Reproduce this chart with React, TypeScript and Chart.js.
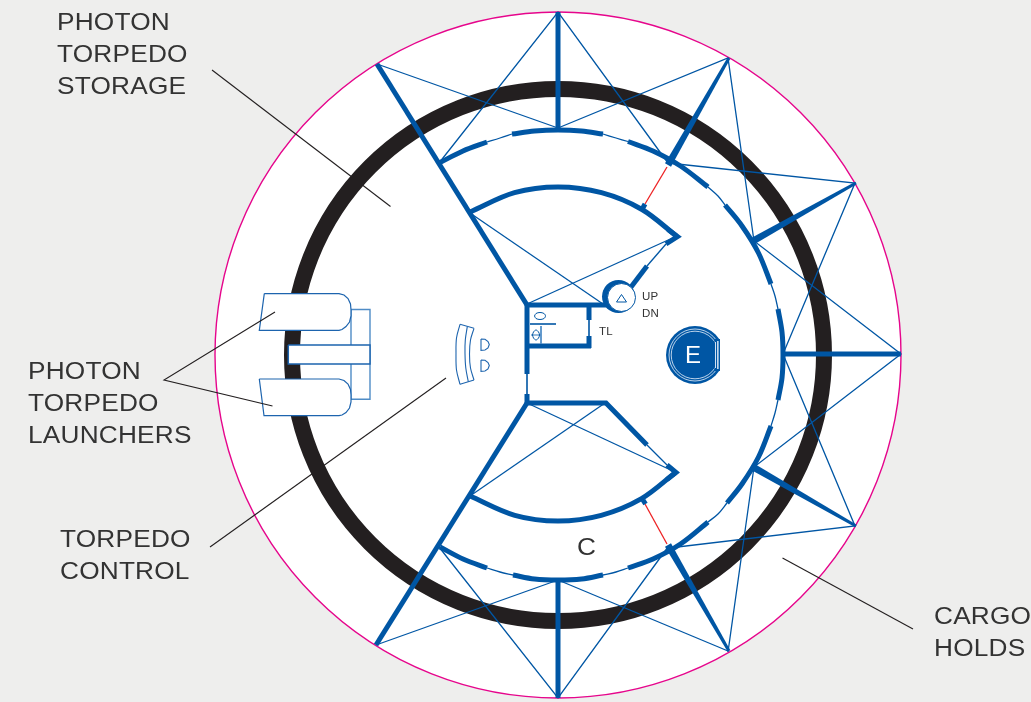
import React, { useEffect, useRef } from "react";
import { Chart, registerables } from "chart.js";

Chart.register(...registerables);

type P = number[];

const BLUE = "#0056a4";
const LIGHT = "#4f8cc6";
const INK = "#231f20";
const PINK = "#e6058c";
const RED = "#ed2224";
const GREY = "#eeeeed";

// ---- round marks: centre x, centre y
const hullCentre: P = [558, 355];
const ringCentre: P = [558, 355];
const stairOuterCentre: P = [618.5, 296.5];
const stairInnerCentre: P = [621.5, 297.5];
const engCentre: P = [695, 355];

// ---- labels
const storageLabel = ["PHOTON", "TORPEDO", "STORAGE"];
const launcherLabel = ["PHOTON", "TORPEDO", "LAUNCHERS"];
const controlLabel = ["TORPEDO", "CONTROL"];
const cargoLabel = ["CARGO", "HOLDS"];
const upLabel = ["UP", "DN"];

// ---- leader lines
const leaderStorage: P[] = [[212, 70], [390.5, 206.5]];
const leaderLaunchA: P[] = [[275, 312], [164, 380], [272.5, 406]];
const leaderControl: P[] = [[210, 547], [446, 378]];
const leaderCargo: P[] = [[782.5, 558], [913, 629]];

// ---- heavy radial frames, even width
const frames: P[][] = [
  [[377, 64], [527, 305]],
  [[558, 12], [558, 129]],
  [[901, 354], [783, 354]],
  [[558, 698], [558, 580]],
  [[376, 645], [527, 403]],
];

// ---- heavy radial frames, tapered towards the hull
const taperTopRight: P[] = [[727.7, 57.3], [730.3, 58.7], [671, 166.7], [665, 163.3], [727.7, 57.3]];
const taperRightUpper: P[] = [[855.3, 181.7], [856.7, 184.3], [754.8, 244], [751.2, 238], [855.3, 181.7]];
const taperRightLower: P[] = [[856.7, 524.7], [855.3, 527.3], [751.2, 470], [754.8, 464], [856.7, 524.7]];
const taperBottomRight: P[] = [[730.3, 650.3], [727.7, 651.7], [665, 546.7], [671, 543.3], [730.3, 650.3]];

// ---- thin bracing
const bracing: P[][] = [
  [[377, 64], [558, 128]],
  [[439, 163], [558, 12], [668, 163]],
  [[558, 128], [728, 58], [754, 241], [901, 354], [754, 467], [728, 652]],
  [[668, 163], [855, 183], [783, 354], [855, 526], [669, 548]],
  [[558, 580], [376, 645]],
  [[439, 547], [558, 698], [668, 547]],
  [[558, 580], [728, 651]],
  [[470, 213], [603, 304]],
  [[677, 236], [527, 304]],
  [[527, 403], [675, 472]],
  [[470, 496], [605, 403]],
  [[647, 266], [666, 244]],
  [[647, 445], [667, 465]],
];

// ---- outer bulkhead, heavy stretches
const wallThick: P[][] = [
  [[439, 163], [463, 151], [487, 142]],
  [[512, 134], [534.5, 131], [558, 130], [581.5, 131], [603, 134]],
  [[628, 141.5], [653, 151], [680.5, 166], [708, 187]],
  [[725, 205], [742, 226], [758.5, 253], [771, 284]],
  [[778, 309], [782, 332], [783, 355], [782, 378], [778, 400]],
  [[771, 426], [758.5, 457], [742, 484], [727, 503]],
  [[708, 522], [680.5, 544], [653, 559], [628, 568]],
  [[603, 575], [581.5, 579], [558, 580], [534.5, 579], [513, 575]],
  [[487, 568], [463, 559], [440, 547]],
];

// ---- outer bulkhead, light stretches
const wallThin: P[][] = [
  [[487, 142], [500, 138], [512, 134]],
  [[603, 134], [616, 138], [628, 141.5]],
  [[708, 187], [718, 196], [725, 205]],
  [[771, 284], [775, 296], [778, 309]],
  [[778, 400], [775, 413], [771, 426]],
  [[727, 503], [718, 514], [708, 522]],
  [[628, 568], [616, 572], [603, 575]],
  [[513, 575], [500, 572], [487, 568]],
];

// ---- inner compartment curves
const innerTop: P[] = [[470, 212], [514.5, 192.7], [558, 187], [601.5, 192.7], [642, 209.5], [677, 236.5]];
const innerBottom: P[] = [[470, 496], [514.8, 515.3], [558, 521], [601.2, 515.3], [641.5, 498.6], [675.5, 472.5]];

// ---- inner heavy walls
const innerWalls: P[][] = [
  [[527, 305], [610, 305]],
  [[527, 303], [527, 374]],
  [[527, 394], [527, 405]],
  [[526, 346], [591, 346]],
  [[589, 307], [589, 320]],
  [[589, 336], [589, 348]],
  [[525, 403], [606, 403], [647, 445]],
  [[628, 291], [647, 266]],
  [[666, 244], [677.5, 236.5], [668, 229.5]],
  [[667, 465], [676, 472.5], [667, 479.5]],
  [[642, 209.5], [645, 204]],
  [[643, 500], [645.5, 504]],
];
const innerThin: P[][] = [
  [[527, 374], [527, 394]],
  [[589, 320], [589, 336]],
  [[530, 324], [556, 324]],
];
const redLinks: P[][] = [
  [[645, 204], [667, 167]],
  [[645, 504], [667, 544]],
];

// ---- washroom fittings
const basin: P[] = [[534.5, 316], [536, 313.5], [540, 312.5], [544, 313.5], [545.5, 316], [544, 318.5], [540, 319.5], [536, 318.5], [534.5, 316]];
const bowl: P[] = [[532.5, 335], [533.5, 332], [536, 330], [538.5, 332], [539.5, 335], [538.5, 338], [536, 340], [533.5, 338], [532.5, 335]];
const bowlBar: P[] = [[531, 335], [541, 335]];
const washDivider: P[] = [[541, 326], [541, 344]];

// ---- stair triangle
const stairMark: P[] = [[616.5, 302], [621.5, 294.5], [626.5, 302], [616.5, 302]];

// ---- engineering shaft cut
const engCover: P[] = [[714.5, 339], [720, 339], [720, 371], [714.5, 371], [714.5, 339]];
const engCut: P[] = [[720, 336], [727, 336], [727, 374], [720, 374], [720, 336]];
const engSlotA: P[] = [[715.5, 342], [715.5, 368]];
const engSlotB: P[] = [[717.8, 341], [717.8, 369]];

// ---- launcher tubes
const launcherUpper: P[] = [[264.3, 293.7], [339, 293.7], [344, 295], [348, 298.5], [350.5, 304], [351, 310], [351, 316], [349.5, 322], [346, 326.5], [342, 329.5], [339, 330.3], [259.3, 330.3], [264.3, 293.7]];
const launcherLower: P[] = [[259.3, 379], [339, 379], [344, 380.5], [348, 384], [350.5, 389.5], [351, 395], [351, 402], [349.5, 408], [346, 412.5], [342, 415], [339, 415.7], [264, 415.7], [259.3, 379]];
const launcherBack: P[] = [[351, 309.5], [370, 309.5], [370, 399.3], [351, 399.3], [351, 309.5]];
const launcherStem: P[] = [[288.3, 345], [370, 345], [370, 364], [288.3, 364], [288.3, 345]];

// ---- torpedo control console
const consoleOuter: P[] = [[460, 324.3], [456.5, 338], [456, 353.5], [456.5, 370], [460, 384.3]];
const consoleMiddle: P[] = [[467.3, 326.7], [465.3, 340], [465, 353.5], [465.8, 368], [468.3, 381.7]];
const consoleInner: P[] = [[474, 328.3], [470.5, 340], [469.5, 354], [470.5, 368], [474, 380]];
const consoleTop: P[] = [[460, 324.3], [474, 328.3]];
const consoleBottom: P[] = [[460, 384.3], [474, 380]];
const seatA: P[] = [[481, 339], [485, 339.3], [488, 341.5], [489.3, 344.5], [488, 348], [485, 350], [481, 350.3], [481, 339]];
const seatB: P[] = [[481, 360], [485, 360.3], [488, 362.5], [489.3, 365.5], [488, 369], [485, 371], [481, 371.3], [481, 360]];

const pts = (a: P[]) => a.map(([x, y]) => ({ x, y }));

const line = (a: P[], color: string, width: number, extra: any = {}) => ({
  data: pts(a),
  showLine: true,
  borderColor: color,
  borderWidth: width,
  pointRadius: 0,
  fill: false,
  tension: 0,
  clip: false,
  borderJoinStyle: "miter",
  ...extra,
});

const shape = (a: P[], color: string, width: number, bg = "#ffffff") =>
  line(a, color, width, { fill: "shape", backgroundColor: bg });

const disc = (c: P, r: number, bg: string, border: string, bw: number) => ({
  data: pts([c]),
  showLine: false,
  pointRadius: r,
  pointBackgroundColor: bg,
  pointBorderColor: border,
  pointBorderWidth: bw,
  clip: false,
});

const textPlugin = {
  id: "diagramText",
  beforeDraw(chart: any) {
    const { ctx, width, height } = chart;
    ctx.save();
    ctx.fillStyle = GREY;
    ctx.fillRect(0, 0, width, height);
    ctx.restore();
  },
  afterDatasetsDraw(chart: any) {
    const { ctx, scales } = chart;
    const put = (s: string, x: number, y: number, size: number, color: string, spacing: number, stretch = 1) => {
      ctx.save();
      ctx.font = `${size}px "Liberation Sans", Arial, sans-serif`;
      ctx.fillStyle = color;
      ctx.textAlign = "left";
      ctx.textBaseline = "alphabetic";
      ctx.letterSpacing = `${spacing}px`;
      ctx.translate(scales.x.getPixelForValue(x), scales.y.getPixelForValue(y));
      ctx.scale(stretch, 1);
      ctx.fillText(s, 0, 0);
      ctx.restore();
    };
    const ink = "#333333";
    storageLabel.forEach((s, i) => put(s, 57, 30 + i * 32, 24.5, ink, 0.2, 1.07));
    launcherLabel.forEach((s, i) => put(s, 28, 379 + i * 32, 24.5, ink, 0.2, 1.07));
    controlLabel.forEach((s, i) => put(s, 60, 547 + i * 32, 24.5, ink, 0.2, 1.07));
    cargoLabel.forEach((s, i) => put(s, 934, 624 + i * 32, 24.5, ink, 0.2, 1.07));
    put("C", 577, 555, 24.5, ink, 0, 1.07);
    upLabel.forEach((s, i) => put(s, 642, 300 + i * 16.5, 11.5, ink, 0.3));
    put("TL", 599, 335, 11.5, ink, 0.3);
    put("E", 685, 363, 24, "#ffffff", 0);
  },
};

export default function App() {
  const ref = useRef<HTMLCanvasElement | null>(null);
  useEffect(() => {
    if (!ref.current) return;
    const painted: any[] = [
      disc(hullCentre, 343, "#ffffff", PINK, 1.4),
      line(leaderStorage, INK, 1.1),
      line(leaderCargo, INK, 1.1),
      line(leaderControl, INK, 1.1),
      disc(ringCentre, 266, "rgba(0,0,0,0)", INK, 16),
      ...bracing.map((b) => line(b, BLUE, 1.3)),
      ...wallThin.map((w) => line(w, BLUE, 1.3, { tension: 0.34 })),
      ...wallThick.map((w) => line(w, BLUE, 5, { tension: 0.34 })),
      ...frames.map((f) => line(f, BLUE, 5)),
      shape(taperTopRight, BLUE, 0, BLUE),
      shape(taperRightUpper, BLUE, 0, BLUE),
      shape(taperRightLower, BLUE, 0, BLUE),
      shape(taperBottomRight, BLUE, 0, BLUE),
      line(innerTop, BLUE, 5, { tension: 0.34 }),
      line(innerBottom, BLUE, 5, { tension: 0.34 }),
      ...redLinks.map((r) => line(r, RED, 1.3)),
      ...innerWalls.map((w) => line(w, BLUE, 5)),
      ...innerThin.map((w) => line(w, BLUE, 1.6)),
      line(basin, BLUE, 1, { tension: 0.34 }),
      line(bowl, BLUE, 1, { tension: 0.34 }),
      line(bowlBar, BLUE, 0.8),
      line(washDivider, LIGHT, 1),
      disc(stairOuterCentre, 16.5, BLUE, BLUE, 0),
      disc(stairInnerCentre, 14, "#ffffff", BLUE, 1),
      line(stairMark, BLUE, 1),
      disc(engCentre, 29, BLUE, BLUE, 0),
      disc(engCentre, 26, "rgba(0,0,0,0)", "#cfe0f2", 0.9),
      disc(engCentre, 23.8, "rgba(0,0,0,0)", "#cfe0f2", 0.9),
      shape(engCover, BLUE, 0, BLUE),
      shape(engCut, "#ffffff", 0),
      line(engSlotA, "#cfe0f2", 0.9),
      line(engSlotB, "#cfe0f2", 0.9),
      line(launcherBack, LIGHT, 1.4),
      shape(launcherStem, "#1d64ae", 1.5),
      shape(launcherUpper, "#1d64ae", 1.2),
      shape(launcherLower, "#1d64ae", 1.2),
      line(leaderLaunchA, INK, 1.1),
      line(consoleOuter, "#1d64ae", 1.1, { tension: 0.34 }),
      line(consoleMiddle, "#1d64ae", 1.1, { tension: 0.34 }),
      line(consoleInner, "#1d64ae", 1.1, { tension: 0.34 }),
      line(consoleTop, "#1d64ae", 1.1),
      line(consoleBottom, "#1d64ae", 1.1),
      line(seatA, "#1d64ae", 1.1),
      line(seatB, "#1d64ae", 1.1),
    ];
    const chart = new Chart(ref.current, {
      type: "scatter",
      data: { datasets: painted.reverse() },
      options: {
        animation: false,
        responsive: false,
        events: [],
        layout: { padding: 0, autoPadding: false },
        plugins: { legend: { display: false }, tooltip: { enabled: false } },
        scales: {
          x: { type: "linear", min: 0, max: 1031, display: false },
          y: { type: "linear", min: 0, max: 702, reverse: true, display: false },
        },
      },
      plugins: [textPlugin],
    } as any);
    return () => chart.destroy();
  }, []);
  return (
    <div style={{ position: "absolute", left: 0, top: 0, width: 1031, height: 702, overflow: "hidden" }}>
      <canvas ref={ref} width={1031} height={702} style={{ display: "block" }} />
    </div>
  );
}
